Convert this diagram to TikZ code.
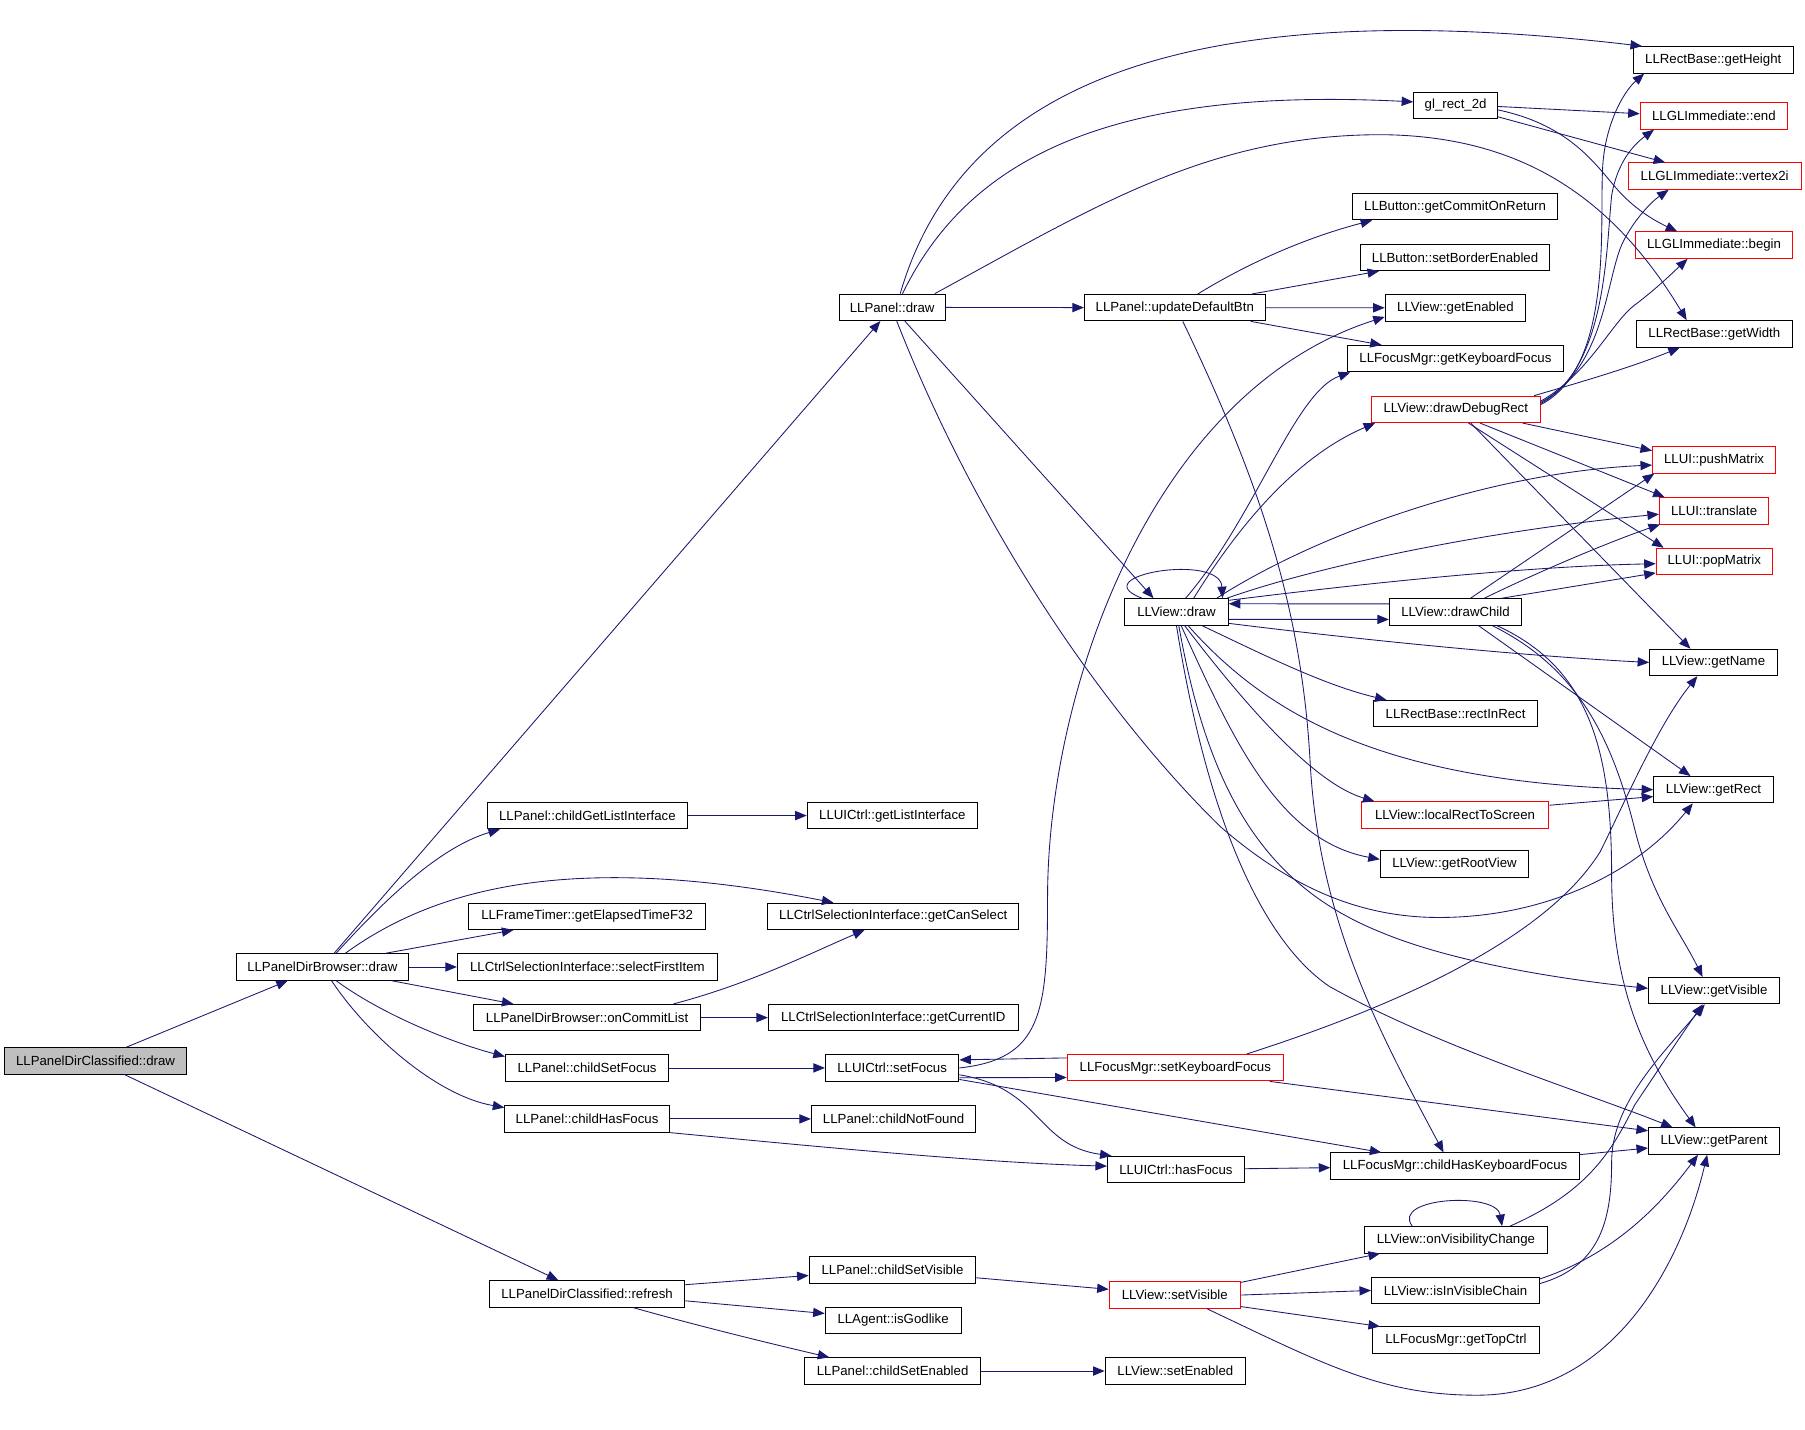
\documentclass[tikz,border=0pt]{standalone}
\usepackage{fontspec}
\setmainfont{Liberation Sans}
\usetikzlibrary{arrows.meta}
\definecolor{edgeblue}{HTML}{191970}
\definecolor{nodegray}{HTML}{BFBFBF}
\begin{document}
\begin{tikzpicture}[x=1pt,y=-1pt,
  fn/.style={draw=black, line width=0.8pt, rectangle, inner sep=0pt, minimum height=23pt, fill=white, font=\fontsize{11.5pt}{14pt}\selectfont},
  fnred/.style={fn, draw=red},
  fngray/.style={fn, fill=nodegray},
  e/.style={draw=edgeblue, line width=0.75pt, -{Triangle[length=10pt,width=8pt]}}]
\useasboundingbox (0,0) rectangle (1568,1241.5);
% column 0-1
\node[fngray, minimum width=158pt] (A) at (83,921.5) {LLPanelDirClassified::draw};
\node[fn, minimum width=150pt] (B) at (280,840) {LLPanelDirBrowser::draw};
% column 2
\node[fn, minimum width=170pt] (R) at (510,1124) {LLPanelDirClassified::refresh};
\node[fn, minimum width=174pt] (cgl) at (510.3,708.5) {LLPanel::childGetListInterface};
\node[fn, minimum width=206pt] (fte) at (510,796) {LLFrameTimer::getElapsedTimeF32};
\node[fn, minimum width=226pt] (sfi) at (510.3,840) {LLCtrlSelectionInterface::selectFirstItem};
\node[fn, minimum width=197pt] (ocl) at (510,884) {LLPanelDirBrowser::onCommitList};
\node[fn, minimum width=142pt] (csf) at (510,927.7) {LLPanel::childSetFocus};
\node[fn, minimum width=143pt] (chf) at (510,972) {LLPanel::childHasFocus};
% column 3
\node[fn, minimum width=92pt] (P) at (775,267) {LLPanel::draw};
\node[fn, minimum width=148pt] (gli) at (775.2,708.5) {LLUICtrl::getListInterface};
\node[fn, minimum width=218pt] (gcs) at (776,796) {LLCtrlSelectionInterface::getCanSelect};
\node[fn, minimum width=217pt] (gci) at (776,884) {LLCtrlSelectionInterface::getCurrentID};
\node[fn, minimum width=116pt] (sf) at (775,927.7) {LLUICtrl::setFocus};
\node[fn, minimum width=143pt] (cnf) at (776.3,972) {LLPanel::childNotFound};
\node[fn, minimum width=145pt] (csv) at (775.3,1103) {LLPanel::childSetVisible};
\node[fn, minimum width=118pt] (igl) at (775.8,1147) {LLAgent::isGodlike};
\node[fn, minimum width=153pt] (cse) at (775.4,1191) {LLPanel::childSetEnabled};
% column 4
\node[fn, minimum width=157pt] (udb) at (1020.5,267.3) {LLPanel::updateDefaultBtn};
\node[fn, minimum width=90pt] (vd) at (1022,531.5) {LLView::draw};
\node[fnred, minimum width=188pt] (skf) at (1021,927.5) {LLFocusMgr::setKeyboardFocus};
\node[fn, minimum width=119pt] (hf) at (1021.5,1016) {LLUICtrl::hasFocus};
\node[fnred, minimum width=114pt] (sv) at (1020.5,1125) {LLView::setVisible};
\node[fn, minimum width=122pt] (se) at (1021,1191) {LLView::setEnabled};
% column 5
\node[fn, minimum width=73pt] (gl) at (1264.5,91.5) {gl\_rect\_2d};
\node[fn, minimum width=178pt] (gcr) at (1264,179.5) {LLButton::getCommitOnReturn};
\node[fn, minimum width=164pt] (sbe) at (1264,223.6) {LLButton::setBorderEnabled};
\node[fn, minimum width=122pt] (ge) at (1264.3,267.4) {LLView::getEnabled};
\node[fn, minimum width=188pt] (gkf) at (1264.3,311.6) {LLFocusMgr::getKeyboardFocus};
\node[fnred, minimum width=146.5pt] (ddr) at (1264.6,355.6) {LLView::drawDebugRect};
\node[fn, minimum width=115pt] (dc) at (1264.4,531.6) {LLView::drawChild};
\node[fn, minimum width=143pt] (rir) at (1264.5,620) {LLRectBase::rectInRect};
\node[fnred, minimum width=163pt] (lrs) at (1264,708) {LLView::localRectToScreen};
\node[fn, minimum width=129pt] (grv) at (1263.5,750.5) {LLView::getRootView};
\node[fn, minimum width=216pt] (chk) at (1264,1013) {LLFocusMgr::childHasKeyboardFocus};
\node[fn, minimum width=159pt] (ovc) at (1264.8,1077) {LLView::onVisibilityChange};
\node[fn, minimum width=146pt] (ivc) at (1264.4,1121) {LLView::isInVisibleChain};
\node[fn, minimum width=145pt] (gtc) at (1264.8,1164.2) {LLFocusMgr::getTopCtrl};
% column 6
\node[fn, minimum width=139pt] (gh) at (1488.3,52) {LLRectBase::getHeight};
\node[fnred, minimum width=128pt] (gend) at (1488.8,100.8) {LLGLImmediate::end};
\node[fnred, minimum width=150pt] (gv2) at (1489.5,153) {LLGLImmediate::vertex2i};
\node[fnred, minimum width=137pt] (gbeg) at (1489,213) {LLGLImmediate::begin};
\node[fn, minimum width=135pt] (gw) at (1489.2,290) {LLRectBase::getWidth};
\node[fnred, minimum width=107pt] (pm) at (1489,399.5) {LLUI::pushMatrix};
\node[fnred, minimum width=95pt] (tr) at (1489,443.7) {LLUI::translate};
\node[fnred, minimum width=101pt] (pop) at (1489.2,487.7) {LLUI::popMatrix};
\node[fn, minimum width=111pt] (gn) at (1488.5,575.5) {LLView::getName};
\node[fn, minimum width=104pt] (gr) at (1488.5,686) {LLView::getRect};
\node[fn, minimum width=114pt] (gvis) at (1489,860.6) {LLView::getVisible};
\node[fn, minimum width=114pt] (gp) at (1489,991.3) {LLView::getParent};

% ---- edges ----
\draw[e] ([xshift=27pt]A.north) -- ([xshift=-30pt]B.south);
\draw[e] ([xshift=25pt]A.south) -- ([xshift=-25pt]R.north);
\draw[e] (B) -- (P);
\draw[e] ([xshift=12pt]B.north) .. controls (340,775) and (385,735) .. ([xshift=-76pt]cgl.south);
\draw[e] ([xshift=20pt]B.north) .. controls (380,770) and (500,740) .. ([xshift=-52pt]gcs.north);
\draw[e] ([xshift=55pt]B.north) -- ([xshift=-64pt]fte.south);
\draw[e] (B) -- (sfi);
\draw[e] ([xshift=60pt]B.south) -- ([xshift=-64pt]ocl.north);
\draw[e] ([xshift=12pt]B.south) .. controls (330,880) and (390,905) .. ([yshift=-2pt]csf.north west);
\draw[e] ([xshift=8pt]B.south) .. controls (320,900) and (380,952) .. ([yshift=-2pt]chf.north west);
\draw[e] ([yshift=8pt]R.east) -- ([yshift=-5pt]csv.west);
\draw[e] ([yshift=-6pt]R.east) -- ([yshift=6pt]igl.west);
\draw[e] ([xshift=40pt]R.south) .. controls (600,1150) and (660,1165) .. ([xshift=-55pt]cse.north);
\draw[e] (cgl) -- (gli);
\draw[e] (ocl) -- (gci);
\draw[e] ([xshift=75pt]ocl.north) .. controls (650,855) and (700,830) .. ([xshift=-25pt]gcs.south);
\draw[e] (csf) -- (sf);
\draw[e] (chf) -- (cnf);
\draw[e] (chf.south east) .. controls (700,995) and (850,1010) .. ([yshift=3pt]hf.west);
\draw[e] ([yshift=-7pt]csv.east) -- ([yshift=5pt]sv.west);
\draw[e] (cse) -- (se);
% LLPanel::draw
\draw[e] ([xshift=7pt]P.north) .. controls (830,90) and (1000,-10) .. ([xshift=8pt]gh.north west);
\draw[e] ([xshift=9pt]P.north) .. controls (840,140) and (960,75) .. ([yshift=3pt]gl.west);
\draw[e] ([xshift=37pt]P.north) .. controls (950,180) and (1050,117) .. (1200,117) .. controls (1320,118) and (1400,170) .. ([xshift=-24pt]gw.north);
\draw[e] (P) -- (udb);
\draw[e] ([xshift=11pt]P.south) -- ([xshift=-20pt]vd.north);
\draw[e] ([xshift=4pt]P.south) .. controls (850,460) and (960,620) .. (1060,718) .. controls (1120,770) and (1180,797) .. (1250,797) .. controls (1340,797) and (1420,760) .. ([xshift=-18pt]gr.south);
% updateDefaultBtn
\draw[e] ([xshift=20pt]udb.north) .. controls (1090,225) and (1140,205) .. ([xshift=-72pt]gcr.south);
\draw[e] ([xshift=67pt]udb.north) -- ([xshift=-66pt]sbe.south);
\draw[e] (udb) -- (ge);
\draw[e] ([xshift=66pt]udb.south) -- ([xshift=-64pt]gkf.north);
\draw[e] ([xshift=7pt]udb.south) .. controls (1090,410) and (1130,520) .. (1138,660) .. controls (1145,800) and (1200,900) .. ([xshift=-10pt]chk.north);
% setFocus
\draw[e] (sf.east) .. controls (905,920) and (910,880) .. (910,780) .. controls (910,600) and (1000,340) .. ([yshift=4pt]ge.south west);
\draw[e] ([yshift=-8.5pt]sf.east) -- ([yshift=-8.5pt]skf.west);
\draw[e] ([yshift=8.5pt]skf.west) -- ([yshift=7pt]sf.east);
\draw[e] ([yshift=-6pt]sf.east) .. controls (905,945) and (900,995) .. ([xshift=4pt]hf.north west);
\draw[e] ([yshift=-10pt]sf.east) -- ([xshift=-64pt]chk.north);
% setKeyboardFocus
\draw[e] ([xshift=62pt]skf.north) .. controls (1200,878) and (1340,820) .. (1390,740) .. controls (1410,700) and (1440,630) .. ([xshift=-14pt]gn.south);
\draw[e] ([xshift=82pt]skf.south) -- ([yshift=9pt]gp.west);
\draw[e] (hf) -- (chk);
\draw[e] ([yshift=10pt]chk.east) -- ([yshift=-6pt]gp.west);
% setVisible
\draw[e] ([yshift=11pt]sv.east) -- ([xshift=-66pt]ovc.south);
\draw[e] (sv.east) -- (ivc.west);
\draw[e] ([yshift=-10pt]sv.east) -- ([xshift=-66pt]gtc.north);
\draw[e] ([xshift=28pt]sv.south) .. controls (1150,1185) and (1200,1212) .. (1283,1212) .. controls (1400,1212) and (1460,1100) .. ([xshift=-6pt]gp.south);
\draw[e] ([xshift=-38pt]ovc.north) .. controls (1208,1040) and (1300,1035) .. ([xshift=40pt]ovc.north);
\draw[e] ([xshift=47pt]ovc.north) .. controls (1380,1035) and (1400,1000) .. (1420,960) .. controls (1440,930) and (1460,900) .. ([xshift=-10pt]gvis.south);
\draw[e] ([yshift=6pt]ivc.east) .. controls (1390,1100) and (1400,1060) .. (1400,1010) .. controls (1400,960) and (1440,920) .. ([xshift=-8pt]gvis.south);
\draw[e] ([yshift=10pt]ivc.east) .. controls (1400,1090) and (1440,1050) .. ([xshift=-14pt]gp.south);
% gl_rect_2d
\draw[e] ([yshift=-1pt]gl.east) -- ([yshift=2pt]gend.west);
\draw[e] ([yshift=-10pt]gl.east) -- ([xshift=-43pt]gv2.north);
\draw[e] ([yshift=-4pt]gl.east) .. controls (1370,110) and (1390,150) .. (1410,170) .. controls (1425,185) and (1440,193) .. ([xshift=-32pt]gbeg.north);
% drawDebugRect
\draw[e] ([yshift=4pt]ddr.east) .. controls (1400,320) and (1390,200) .. (1392,150) .. controls (1393,110) and (1410,80) .. ([xshift=-60pt]gh.south);
\draw[e] ([yshift=5pt]ddr.east) .. controls (1395,320) and (1395,220) .. (1400,170) .. controls (1405,140) and (1420,125) .. ([xshift=-52pt]gend.south);
\draw[e] ([yshift=6pt]ddr.east) .. controls (1395,320) and (1395,240) .. (1410,210) .. controls (1420,190) and (1435,175) .. ([xshift=-40pt]gv2.south);
\draw[e] ([yshift=7pt]ddr.east) .. controls (1380,325) and (1400,280) .. (1420,265) .. controls (1440,250) and (1455,235) .. ([xshift=-23pt]gbeg.south);
\draw[e] ([xshift=68pt]ddr.north) .. controls (1380,330) and (1420,318) .. ([xshift=-30pt]gw.south);
\draw[e] ([xshift=58pt]ddr.south) -- ([yshift=8pt]pm.west);
\draw[e] ([xshift=21pt]ddr.south) -- ([xshift=-43pt]tr.north);
\draw[e] ([xshift=11pt]ddr.south) -- ([xshift=-44pt]pop.north);
\draw[e] ([xshift=13pt]ddr.south) -- ([xshift=-20pt]gn.north);
% LLView::draw
\draw[e] ([xshift=-30pt]vd.north) .. controls (940,500) and (1060,480) .. ([xshift=40pt]vd.north);
\draw[e] ([xshift=15pt]vd.north) .. controls (1080,450) and (1130,395) .. ([xshift=-70pt]ddr.south);
\draw[e] ([xshift=8pt]vd.north) .. controls (1090,450) and (1125,340) .. ([xshift=3pt]gkf.south west);
\draw[e] ([xshift=35pt]vd.north) .. controls (1150,460) and (1300,410) .. ([yshift=-4.5pt]pm.west);
\draw[e] ([xshift=44pt]vd.north) .. controls (1150,490) and (1300,460) .. ([yshift=-3pt]tr.west);
\draw[e] ([yshift=10pt]vd.east) .. controls (1200,505) and (1330,492) .. ([yshift=-2pt]pop.west);
\draw[e] ([yshift=-6.5pt]vd.east) -- ([yshift=-6.5pt]dc.west);
\draw[e] ([yshift=7pt]dc.west) -- ([yshift=7pt]vd.east);
\draw[e] ([yshift=-10pt]vd.east) .. controls (1200,558) and (1330,570) .. (gn.west);
\draw[e] ([xshift=22pt]vd.south) .. controls (1100,570) and (1150,595) .. ([xshift=-60pt]rir.north);
\draw[e] ([xshift=10pt]vd.south) .. controls (1100,620) and (1200,680) .. (gr.west);
\draw[e] ([xshift=7pt]vd.south) .. controls (1080,610) and (1140,680) .. ([xshift=-70pt]lrs.north);
\draw[e] ([xshift=4pt]vd.south) .. controls (1070,640) and (1110,730) .. ([yshift=4pt]grv.west);
\draw[e] ([xshift=2pt]vd.south) .. controls (1050,690) and (1100,770) .. (1200,810) .. controls (1260,835) and (1350,850) .. ([yshift=2pt]gvis.west);
\draw[e] (vd.south) .. controls (1050,720) and (1100,820) .. (1155,857) .. controls (1250,910) and (1380,950) .. ([xshift=-36pt]gp.north);
% drawChild
\draw[e] ([xshift=13pt]dc.north) -- ([xshift=-52pt]pm.south);
\draw[e] ([xshift=25pt]dc.north) .. controls (1340,495) and (1400,470) .. ([xshift=-47pt]tr.south);
\draw[e] ([xshift=40pt]dc.north) -- ([yshift=-10pt]pop.west);
\draw[e] ([xshift=20pt]dc.south) -- ([xshift=-20pt]gr.north);
\draw[e] ([xshift=32pt]dc.south) .. controls (1370,580) and (1400,640) .. (1420,720) .. controls (1435,780) and (1460,810) .. ([xshift=-10pt]gvis.north);
\draw[e] ([xshift=36pt]dc.south) .. controls (1380,580) and (1400,650) .. (1400,760) .. controls (1400,860) and (1430,920) .. ([xshift=-16pt]gp.north);
\draw[e] ([yshift=8.5pt]lrs.east) -- ([yshift=-6pt]gr.west);
\end{tikzpicture}
\end{document}
